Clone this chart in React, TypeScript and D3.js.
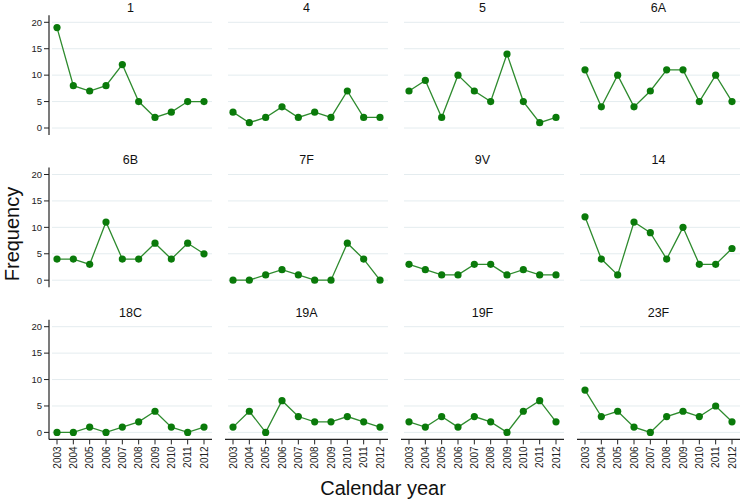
import React from "react";
import * as d3 from "d3";

const years = [2003, 2004, 2005, 2006, 2007, 2008, 2009, 2010, 2011, 2012];
const yTicks = [0, 5, 10, 15, 20];
const panelNames = ["1", "4", "5", "6A", "6B", "7F", "9V", "14", "18C", "19A", "19F", "23F"];
const s1 = [19, 8, 7, 8, 12, 5, 2, 3, 5, 5];
const s4 = [3, 1, 2, 4, 2, 3, 2, 7, 2, 2];
const s5 = [7, 9, 2, 10, 7, 5, 14, 5, 1, 2];
const s6A = [11, 4, 10, 4, 7, 11, 11, 5, 10, 5];
const s6B = [4, 4, 3, 11, 4, 4, 7, 4, 7, 5];
const s7F = [0, 0, 1, 2, 1, 0, 0, 7, 4, 0];
const s9V = [3, 2, 1, 1, 3, 3, 1, 2, 1, 1];
const s14 = [12, 4, 1, 11, 9, 4, 10, 3, 3, 6];
const s18C = [0, 0, 1, 0, 1, 2, 4, 1, 0, 1];
const s19A = [1, 4, 0, 6, 3, 2, 2, 3, 2, 1];
const s19F = [2, 1, 3, 1, 3, 2, 0, 4, 6, 2];
const s23F = [8, 3, 4, 1, 0, 3, 4, 3, 5, 2];
const seriesList = [s1, s4, s5, s6A, s6B, s7F, s9V, s14, s18C, s19A, s19F, s23F];

const W = 742, H = 501;
const font = "'Liberation Sans', Arial, Helvetica, sans-serif";
const colStep = 176;
const rowStep = 152.2;
const gridX0 = 52;
const gridW = 160;
const top20 = 22.3;
const plotH = 105.7;

export default function App() {
  const panels = panelNames.map((name, i) => {
    const c = i % 4, r = Math.floor(i / 4);
    const gx0 = gridX0 + c * colStep;
    const yTop = top20 + r * rowStep;
    const x = d3.scalePoint<number>().domain(years).range([gx0 + 5, gx0 + 152]);
    const y = d3.scaleLinear().domain([0, 20]).range([yTop + plotH, yTop]);
    const data = seriesList[i];
    const line = d3.line<number>().x((_, k) => x(years[k])!).y((v) => y(v));
    const cx = (x(years[0])! + x(years[years.length - 1])!) / 2;
    return (
      <g key={name}>
        {yTicks.map((t) => (
          <line key={t} x1={gx0} x2={gx0 + gridW} y1={y(t)} y2={y(t)} stroke="#e4ecef" strokeWidth={1} />
        ))}
        <text x={cx} y={yTop - 10.2} textAnchor="middle" fontSize={12.5} fill="#111" fontFamily={font}>{name}</text>
        <path d={line(data) || ""} fill="none" stroke="#2e8b2e" strokeWidth={1.3} />
        {data.map((v, k) => (
          <circle key={k} cx={x(years[k])!} cy={y(v)} r={3.6} fill="#0a7a0a" />
        ))}
        {c === 0 && (
          <g>
            <line x1={gx0 - 3} x2={gx0 - 3} y1={yTop - 7} y2={yTop + plotH + 7} stroke="#222" strokeWidth={1.2} />
            {yTicks.map((t) => (
              <g key={t}>
                <line x1={gx0 - 8} x2={gx0 - 3} y1={y(t)} y2={y(t)} stroke="#222" strokeWidth={1} />
                <text x={gx0 - 10} y={y(t)} dy="0.35em" textAnchor="end" fontSize={9.5} fill="#222" fontFamily={font}>{t}</text>
              </g>
            ))}
          </g>
        )}
        {r === 2 && (
          <g>
            <line x1={gx0 - 3} x2={gx0 + gridW} y1={yTop + plotH + 7} y2={yTop + plotH + 7} stroke="#222" strokeWidth={1.2} />
            {years.map((yr) => (
              <g key={yr}>
                <line x1={x(yr)!} x2={x(yr)!} y1={yTop + plotH + 7} y2={yTop + plotH + 12} stroke="#222" strokeWidth={1} />
                <text transform={`translate(${x(yr)! + 3.5},${yTop + plotH + 14}) rotate(-90)`} textAnchor="end" fontSize={10} fill="#222" fontFamily={font}>{yr}</text>
              </g>
            ))}
          </g>
        )}
      </g>
    );
  });
  return (
    <svg width={W} height={H} style={{ position: "absolute", left: 0, top: 0, background: "#fff" }}>
      <rect width={W} height={H} fill="#fff" />
      {panels}
      <text transform="translate(18.5,234) rotate(-90)" textAnchor="middle" fontSize={20} fill="#111" fontFamily={font}>Frequency</text>
      <text x={383} y={495} textAnchor="middle" fontSize={20} fill="#111" fontFamily={font}>Calendar year</text>
    </svg>
  );
}
